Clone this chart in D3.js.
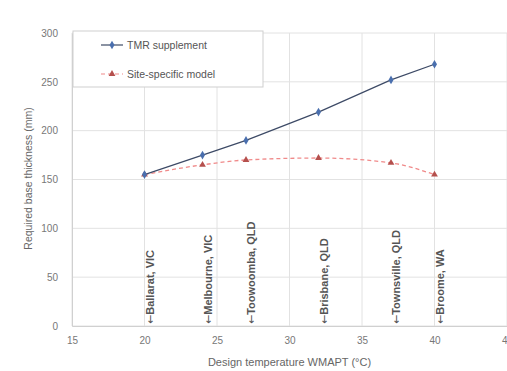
<!DOCTYPE html>
<html>
<head>
<meta charset="utf-8">
<script src="https://cdn.jsdelivr.net/npm/d3@7"></script>
<style>
  body { margin: 0; background: #fff; }
  text { font-family: "Liberation Sans", Arial, sans-serif; }
</style>
</head>
<body>
<div id="chart"></div>
<script>
// data
var temps = [20, 24, 27, 32, 37, 40];
var tmrValues = [155, 175, 190, 219, 252, 268];
var siteValues = [155, 165, 170, 172, 167, 155];
var sites = ["Ballarat, VIC", "Melbourne, VIC", "Toowoomba, QLD", "Brisbane, QLD", "Townsville, QLD", "Broome, WA"];
var xTicks = [15, 20, 25, 30, 35, 40, 45];
var yTicks = [0, 50, 100, 150, 200, 250, 300];
var seriesNames = ["TMR supplement", "Site-specific model"];

var W = 507, H = 371;
var margin = {top: 33, right: 0, bottom: 45, left: 72},
    width = 435,
    height = H - margin.top - margin.bottom;

var svg = d3.select("#chart").append("svg")
    .attr("width", W)
    .attr("height", H);

var g = svg.append("g")
    .attr("transform", "translate(" + margin.left + "," + margin.top + ")");

var x = d3.scaleLinear().domain([15, 45]).range([0, width]);
var y = d3.scaleLinear().domain([0, 300]).range([height, 0]);

// grid
g.append("g").selectAll("line.h")
    .data(yTicks)
    .enter().append("line")
    .attr("x1", 0).attr("x2", width)
    .attr("y1", function (d) { return y(d); })
    .attr("y2", function (d) { return y(d); })
    .style("stroke", "#e2e2e2").style("stroke-width", 1);

g.append("g").selectAll("line.v")
    .data(xTicks)
    .enter().append("line")
    .attr("y1", 0).attr("y2", height)
    .attr("x1", function (d) { return x(d); })
    .attr("x2", function (d) { return x(d); })
    .style("stroke", "#e2e2e2").style("stroke-width", 1);

// axes
var xAxis = g.append("g")
    .attr("transform", "translate(0," + height + ")")
    .call(d3.axisBottom(x).tickValues(xTicks).tickSize(0).tickPadding(11));
var yAxis = g.append("g")
    .call(d3.axisLeft(y).tickValues(yTicks).tickSize(0).tickPadding(14));
[xAxis, yAxis].forEach(function (a) {
    a.select(".domain").style("stroke", "#d0d0d0");
    a.selectAll("text").style("fill", "#777").style("font-size", "10px");
});

// axis titles
g.append("text")
    .attr("x", x(30)).attr("y", height + 40)
    .attr("text-anchor", "middle")
    .style("font-size", "11px").style("fill", "#666")
    .text("Design temperature WMAPT (°C)");

g.append("text")
    .attr("transform", "translate(-40," + (height / 2 - 1) + ") rotate(-90)")
    .attr("text-anchor", "middle")
    .style("font-size", "10.5px").style("fill", "#666")
    .text("Required base thickness (mm)");

// site labels
var siteLabels = g.append("g").selectAll("text")
    .data(temps)
    .enter().append("text")
    .attr("transform", function (d) {
        return "translate(" + (x(d) + 9) + "," + (height - 2) + ") rotate(-90)";
    })
    .style("font-size", "11px").style("font-weight", "bold").style("fill", "#555");
siteLabels.append("tspan")
    .style("font-family", "DejaVu Sans").style("font-weight", "normal")
    .text("\u2190");
siteLabels.append("tspan")
    .text(function (d, i) { return sites[i]; });

// lines
var tmrData = temps.map(function (t, i) { return {x: t, y: tmrValues[i]}; });
var siteData = temps.map(function (t, i) { return {x: t, y: siteValues[i]}; });

g.append("path")
    .datum(siteData)
    .attr("d", d3.line()
        .x(function (d) { return x(d.x); })
        .y(function (d) { return y(d.y); })
        .curve(d3.curveMonotoneX))
    .style("fill", "none").style("stroke", "#f08a8a")
    .style("stroke-width", 1.3).style("stroke-dasharray", "4,3");

g.append("path")
    .datum(tmrData)
    .attr("d", d3.line()
        .x(function (d) { return x(d.x); })
        .y(function (d) { return y(d.y); }))
    .style("fill", "none").style("stroke", "#3d4a66").style("stroke-width", 1.2);

var diamond = d3.symbol().type(d3.symbolDiamond).size(22);
var triangle = d3.symbol().type(d3.symbolTriangle).size(20);

g.append("g").selectAll("path")
    .data(siteData)
    .enter().append("path")
    .attr("d", triangle)
    .attr("transform", function (d) { return "translate(" + x(d.x) + "," + y(d.y) + ")"; })
    .style("fill", "#b5504d");

g.append("g").selectAll("path")
    .data(tmrData)
    .enter().append("path")
    .attr("d", diamond)
    .attr("transform", function (d) { return "translate(" + x(d.x) + "," + y(d.y) + ")"; })
    .style("fill", "#4a6fae");

// legend
var legend = g.append("g").attr("transform", "translate(1,-2)");
legend.append("rect")
    .attr("width", 190).attr("height", 56)
    .style("fill", "#fff").style("stroke", "#cfcfcf");

var items = legend.selectAll("g.item")
    .data(seriesNames)
    .enter().append("g")
    .attr("transform", function (d, i) { return "translate(28," + (14 + i * 29) + ")"; });

items.append("line")
    .attr("x1", 0).attr("x2", 22)
    .style("stroke", function (d, i) { return i === 0 ? "#3d4a66" : "#f08a8a"; })
    .style("stroke-width", 1.2)
    .style("stroke-dasharray", function (d, i) { return i === 0 ? null : "4,3"; });

items.append("path")
    .attr("transform", "translate(11,0)")
    .attr("d", function (d, i) { return i === 0 ? diamond() : triangle(); })
    .style("fill", function (d, i) { return i === 0 ? "#4a6fae" : "#b5504d"; });

items.append("text")
    .attr("x", 26).attr("dy", "0.35em")
    .style("font-size", "10.5px").style("fill", "#555")
    .text(function (d) { return d; });
</script>
</body>
</html>
